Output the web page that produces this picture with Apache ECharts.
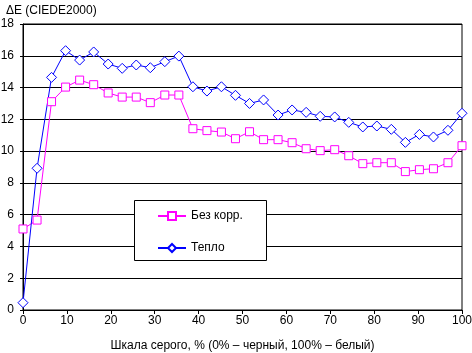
<!DOCTYPE html>
<html><head><meta charset="utf-8">
<script src="https://cdn.jsdelivr.net/npm/echarts@6/dist/echarts.min.js"></script>
<style>html,body{margin:0;padding:0;background:#fff}#c{width:472px;height:353px}</style>
</head><body><div id="c"></div>
<script>
var grayLevels = [0, 3.2, 6.5, 9.7, 12.9, 16.1, 19.4, 22.6, 25.8, 29.0, 32.3, 35.5, 38.7, 41.9, 45.2, 48.4, 51.6, 54.8, 58.1, 61.3, 64.5, 67.7, 71.0, 74.2, 77.4, 80.6, 83.9, 87.1, 90.3, 93.5, 96.8, 100];
var noCorr = [5.1, 5.66, 13.11, 14.03, 14.47, 14.18, 13.66, 13.4, 13.4, 13.05, 13.53, 13.53, 11.41, 11.29, 11.2, 10.78, 11.22, 10.72, 10.72, 10.53, 10.15, 10.03, 10.09, 9.71, 9.21, 9.27, 9.27, 8.71, 8.83, 8.89, 9.27, 10.34];
var warm = [0.46, 8.92, 14.64, 16.32, 15.73, 16.24, 15.48, 15.21, 15.42, 15.25, 15.63, 15.98, 14.05, 13.78, 14.05, 13.51, 13.0, 13.22, 12.27, 12.59, 12.44, 12.19, 12.15, 11.81, 11.52, 11.58, 11.37, 10.55, 11.05, 10.89, 11.31, 12.38];
var seriesNames = ['Без корр.', 'Тепло'];
var titleText = 'ΔE (CIEDE2000)';
var xName = 'Шкала серого, % (0% – черный, 100% – белый)';

function pairs(xs, ys){ return xs.map(function(x,i){ return [x, ys[i]]; }); }
var font = 'Liberation Sans, Arial, sans-serif';
var chart = echarts.init(document.getElementById('c'), null, {renderer:'canvas'});
chart.setOption({
  animation: false,
  backgroundColor: '#fff',
  textStyle: {fontFamily: font},
  title: {text: titleText, left: 1, top: 0, textStyle: {fontFamily: font, fontSize: 12, fontWeight: 'normal', color: '#000'}},
  grid: {left: 23, right: 10, top: 24, bottom: 43, show: true, borderColor: '#000', borderWidth: 1, containLabel: false, outerBoundsMode: 'none'},
  graphic: [{type: 'rect', x: 134.5, y: 200.5, z: 50,
    shape: {x: 0, y: 0, width: 132, height: 60},
    style: {fill: '#fff', stroke: '#000', lineWidth: 1}}],
  legend: {
    orient: 'vertical', left: 157, top: 210, z: 60,
    padding: 0, itemGap: 20, itemWidth: 28, itemHeight: 10,
    textStyle: {fontFamily: font, fontSize: 12, color: '#000'},
    data: seriesNames
  },
  xAxis: {
    type: 'value', min: 0, max: 100, interval: 10,
    name: xName, nameLocation: 'middle', nameGap: 30,
    nameTextStyle: {fontFamily: font, fontSize: 12, color: '#000'},
    axisLine: {show: true, onZero: false, lineStyle: {color: '#000', width: 1}},
    axisTick: {show: true, length: 4, lineStyle: {color: '#000'}},
    axisLabel: {fontFamily: font, fontSize: 12, color: '#000', margin: 5},
    splitLine: {show: false}
  },
  yAxis: {
    type: 'value', min: 0, max: 18, interval: 2,
    axisLine: {show: true, lineStyle: {color: '#000', width: 1}},
    axisTick: {show: true, length: 3, lineStyle: {color: '#000'}},
    axisLabel: {fontFamily: font, fontSize: 12, color: '#000', margin: 9},
    splitLine: {show: true, lineStyle: {color: '#000', width: 1}}
  },
  series: [
    {name: seriesNames[0], type: 'line', data: pairs(grayLevels, noCorr),
     symbol: 'rect', symbolSize: 8, showAllSymbol: true,
     lineStyle: {color: '#ff00ff', width: 1},
     itemStyle: {color: '#fff', borderColor: '#ff00ff', borderWidth: 1}},
    {name: seriesNames[1], type: 'line', data: pairs(grayLevels, warm),
     symbol: 'diamond', symbolSize: 10, showAllSymbol: true,
     lineStyle: {color: '#0000ff', width: 1},
     itemStyle: {color: '#fff', borderColor: '#0000ff', borderWidth: 1}}
  ]
});
</script></body></html>
